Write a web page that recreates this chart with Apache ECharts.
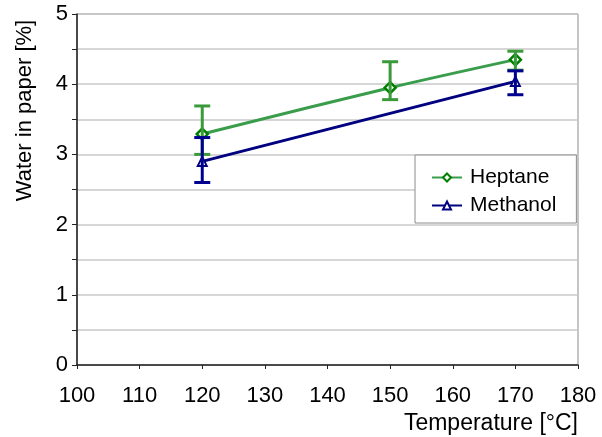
<!DOCTYPE html>
<html>
<head>
<meta charset="utf-8">
<script src="https://cdn.jsdelivr.net/npm/echarts@6/dist/echarts.min.js"></script>
<style>
  html, body { margin: 0; padding: 0; background: #fff; }
  #chart { width: 602px; height: 437px; }
</style>
</head>
<body>
<div id="chart"></div>
<script>
// temperatures [°C] and water content [%]
const heptaneTemps = [120, 150, 170];
const heptaneValues = [3.29, 3.95, 4.35];
const heptaneLow = [3.0, 3.78, 4.2];
const heptaneHigh = [3.69, 4.32, 4.47];

const methanolTemps = [120, 170];
const methanolValues = [2.9, 4.04];
const methanolLow = [2.6, 3.85];
const methanolHigh = [3.24, 4.19];

const font = "Liberation Sans, Arial, sans-serif";

function errorData(temps, low, high) {
  return temps.map((t, i) => [t, low[i], high[i]]);
}

// vertical error bar with caps
function errorBar(color) {
  return function (params, api) {
    const top = api.coord([api.value(0), api.value(2)]);
    const bot = api.coord([api.value(0), api.value(1)]);
    const w = 8;
    const style = { stroke: color, lineWidth: 3 };
    return {
      type: "group",
      children: [
        { type: "line", shape: { x1: top[0], y1: top[1], x2: bot[0], y2: bot[1] }, style },
        { type: "line", shape: { x1: top[0] - w, y1: top[1], x2: top[0] + w, y2: top[1] }, style },
        { type: "line", shape: { x1: bot[0] - w, y1: bot[1], x2: bot[0] + w, y2: bot[1] }, style },
      ],
    };
  };
}

const chart = echarts.init(document.getElementById("chart"));
chart.setOption({
  animation: false,
  grid: {
    left: 77, right: 24, top: 14, bottom: 72,
    containLabel: false,
    outerBoundsMode: "none",
    show: true, borderColor: "#8c8c8c", borderWidth: 1,
  },
  legend: {
    orient: "vertical",
    left: 415, top: 155,
    width: 162,
    padding: [12, 20, 7, 16],
    itemGap: 7,
    itemWidth: 30, itemHeight: 10,
    borderColor: "#8c8c8c", borderWidth: 1,
    backgroundColor: "#fff",
    textStyle: { fontFamily: font, fontSize: 21, color: "#000", padding: [0, 0, 0, 3] },
    data: ["Heptane", "Methanol"],
  },
  xAxis: {
    type: "value",
    min: 100, max: 180, interval: 10,
    name: "Temperature [°C]",
    nameLocation: "end",
    nameGap: 0,
    nameTextStyle: {
      fontFamily: font, fontSize: 23, color: "#000",
      align: "right", verticalAlign: "top", padding: [47, 0, 0, 0],
    },
    axisLine: { lineStyle: { color: "#222", width: 1.5 } },
    axisTick: { show: true, length: 4, inside: false, lineStyle: { color: "#222" } },
    axisLabel: { fontFamily: font, fontSize: 22, color: "#000", margin: 20 },
    splitLine: { show: false },
  },
  yAxis: {
    type: "value",
    min: 0, max: 5, interval: 0.5,
    name: "Water in paper [%]",
    nameLocation: "middle",
    nameGap: 41,
    nameRotate: 90,
    nameTextStyle: { fontFamily: font, fontSize: 22, color: "#000", padding: [0, 0, 0, 158] },
    axisLine: { show: true, lineStyle: { color: "#222", width: 1.5 } },
    axisTick: { show: true, length: 5, lineStyle: { color: "#222" } },
    axisLabel: {
      fontFamily: font, fontSize: 22, color: "#000", margin: 9,
      formatter: (v) => (Number.isInteger(v) ? String(v) : ""),
    },
    splitLine: { show: true, lineStyle: { color: "#c8c8c8", width: 1.5 } },
  },
  series: [
    {
      name: "Methanol",
      type: "line",
      data: methanolTemps.map((t, i) => [t, methanolValues[i]]),
      symbol: "triangle",
      symbolSize: 9,
      lineStyle: { color: "#000080", width: 3 },
      itemStyle: { color: "#fff", borderColor: "#000080", borderWidth: 2 },
      z: 3,
    },
    {
      name: "Heptane",
      type: "line",
      data: heptaneTemps.map((t, i) => [t, heptaneValues[i]]),
      smooth: 0.3,
      symbol: "diamond",
      symbolSize: 11,
      lineStyle: { color: "#3a9d4c", width: 3 },
      itemStyle: { color: "#fff", borderColor: "#008000", borderWidth: 2.5 },
      z: 3,
    },
    {
      type: "custom",
      data: errorData(heptaneTemps, heptaneLow, heptaneHigh),
      renderItem: errorBar("#3a9a3a"),
      encode: { x: 0, y: [1, 2] },
      z: 4,
    },
    {
      type: "custom",
      data: errorData(methanolTemps, methanolLow, methanolHigh),
      renderItem: errorBar("#000090"),
      encode: { x: 0, y: [1, 2] },
      z: 4,
    },
  ],
});
</script>
</body>
</html>
